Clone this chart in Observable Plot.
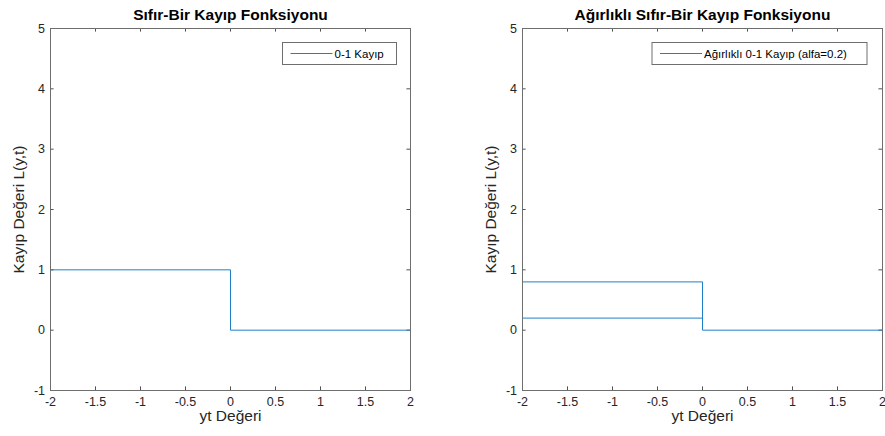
<!DOCTYPE html>
<html>
<head>
<meta charset="utf-8">
<script src="https://cdn.jsdelivr.net/npm/d3@7"></script>
<script src="https://cdn.jsdelivr.net/npm/@observablehq/plot@0.6"></script>
<style>
  html, body { margin: 0; padding: 0; background: #fff; }
  #fig { position: relative; width: 885px; height: 436px; font-family: "Liberation Sans", Arial, sans-serif; }
  #fig svg { position: absolute; top: 0; overflow: visible; }
</style>
</head>
<body>
<div id="fig"></div>
<script>
// Decision values yt and the loss read at each step
const ytSteps = [-2, 0, 0, 2];
const lossZeroOne = [1, 1, 0, 0];
const alfa = 0.2;
const lossWeightedUpper = [0.8, 0.8, 0, 0];
const ytLower = [-2, 0];
const lossWeightedLower = [0.2, 0.2];

const xTicks = [-2, -1.5, -1, -0.5, 0, 0.5, 1, 1.5, 2];
const yTicks = [-1, 0, 1, 2, 3, 4, 5];

const titles = ["Sıfır-Bir Kayıp Fonksiyonu", "Ağırlıklı Sıfır-Bir Kayıp Fonksiyonu"];
const legendLabels = ["0-1 Kayıp", `Ağırlıklı 0-1 Kayıp (alfa=${alfa})`];
const xLabel = "yt Değeri";
const yLabel = "Kayıp Değeri L(y,t)";

const lineColor = "#1f80c8";
const axisColor = "#262626";
const H = 436;
const tickLen = 3.6;

function panel({left, width, marginLeft, marginRight, title, series, legend}) {
  const marginTop = 28, marginBottom = 46;
  const innerW = width - marginLeft - marginRight;
  const innerH = H - marginTop - marginBottom;
  const plot = Plot.plot({
    width, height: H, marginLeft, marginRight, marginTop, marginBottom,
    style: {fontFamily: "Liberation Sans, Arial, sans-serif", color: axisColor, background: "transparent"},
    x: {domain: [-2, 2]},
    y: {domain: [-1, 5]},
    marks: [
      Plot.axisX(xTicks, {tickSize: 0, tickPadding: 6.5, fontSize: 12.5, label: null, tickFormat: d => String(d)}),
      Plot.axisY(yTicks, {tickSize: 0, tickPadding: 5.5, fontSize: 12.5, label: null, tickFormat: d => String(d)}),
      // inward tick marks on all four sides
      Plot.tickX(xTicks, {x: d => d, insetTop: innerH - tickLen, stroke: axisColor, strokeWidth: 0.8}),
      Plot.tickX(xTicks, {x: d => d, insetBottom: innerH - tickLen, stroke: axisColor, strokeWidth: 0.8}),
      Plot.tickY(yTicks, {y: d => d, insetRight: innerW - tickLen, stroke: axisColor, strokeWidth: 0.8}),
      Plot.tickY(yTicks, {y: d => d, insetLeft: innerW - tickLen, stroke: axisColor, strokeWidth: 0.8}),
      ...series.map(s => Plot.line(s.x.map((x, i) => ({x, y: s.y[i]})), {x: "x", y: "y", stroke: lineColor, strokeWidth: 1})),
      Plot.frame({stroke: "#6e6e6e", strokeWidth: 1}),
      Plot.text([title], {frameAnchor: "top", lineAnchor: "middle", dy: -13, fontSize: 15.5, fontWeight: "bold", fill: "#000"}),
      Plot.text([xLabel], {frameAnchor: "bottom", lineAnchor: "middle", dy: 26, fontSize: 15.5, fill: axisColor}),
      Plot.text([yLabel], {frameAnchor: "left", textAnchor: "middle", lineAnchor: "middle", dx: -31, rotate: -90, fontSize: 15.5, fill: axisColor})
    ]
  });
  plot.style.left = left + "px";
  // legend box in the upper right corner of the axes
  const svg = d3.select(plot);
  const g = svg.append("g");
  g.append("rect")
    .attr("x", legend.x).attr("y", 42.5).attr("width", legend.w).attr("height", 22)
    .attr("fill", "#fff").attr("stroke", "#6e6e6e").attr("stroke-width", 1);
  g.append("path")
    .attr("d", `M${legend.x + 8},53.5H${legend.x + 50}`)
    .attr("fill", "none")
    .style("stroke", lineColor).style("stroke-width", "1px");
  g.append("text")
    .attr("x", legend.x + 52).attr("y", 53.5).attr("dy", "0.35em")
    .attr("text-anchor", "start")
    .attr("font-size", 11.5).attr("fill", "#000")
    .attr("font-family", "Liberation Sans, Arial, sans-serif")
    .text(legend.label);
  return plot;
}

const fig = document.getElementById("fig");
fig.append(panel({
  left: 0, width: 442, marginLeft: 50, marginRight: 32, title: titles[0],
  series: [{x: ytSteps, y: lossZeroOne}],
  legend: {x: 282.5, w: 114, label: legendLabels[0]}
}));
fig.append(panel({
  left: 442, width: 443, marginLeft: 80, marginRight: 3, title: titles[1],
  series: [{x: ytSteps, y: lossWeightedUpper}, {x: ytLower, y: lossWeightedLower}],
  legend: {x: 210, w: 215, label: legendLabels[1]}
}));
</script>
</body>
</html>
